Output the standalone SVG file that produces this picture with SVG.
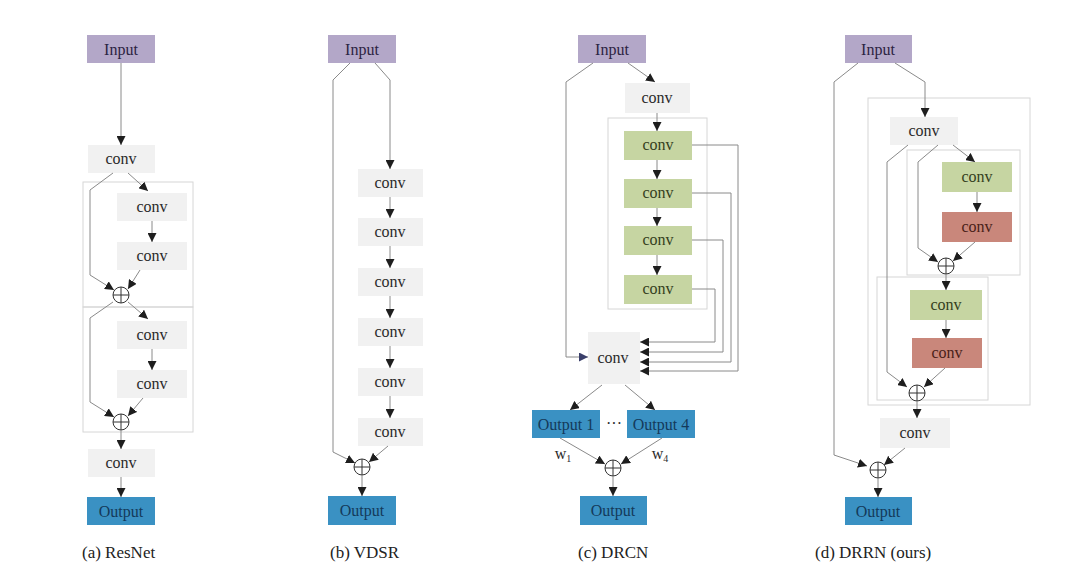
<svg xmlns="http://www.w3.org/2000/svg" width="1080" height="567" viewBox="0 0 1080 567">
<defs>
<marker id="ah" viewBox="0 0 10 10" refX="10" refY="5" markerWidth="9" markerHeight="9" orient="auto" markerUnits="userSpaceOnUse"><path d="M0,0 L10,5 L0,10 z" fill="#1e1e1e"/></marker>
<marker id="ahb" viewBox="0 0 10 10" refX="10" refY="5" markerWidth="9" markerHeight="9" orient="auto" markerUnits="userSpaceOnUse"><path d="M0,0 L10,5 L0,10 z" fill="#3a3f6a"/></marker>
<style>
text{font-family:"Liberation Serif","Times New Roman",serif;font-size:16px;text-anchor:middle;fill:#2a2a2a}
.in{fill:#b3a7c8}
.in-t{fill:#2c2342}
.cv{fill:#f1f1f1}
.gr{fill:#c6d5a2}
.gr-t{fill:#344020}
.rd{fill:#c9877b}
.rd-t{fill:#4a1e18}
.out{fill:#3a91c3}
.out-t{fill:#143a5a}
.blk{fill:none;stroke:#d6d6d6;stroke-width:1}
.c{fill:none;stroke:#8a8a8a;stroke-width:1;marker-end:url(#ah)}
.l{fill:none;stroke:#8a8a8a;stroke-width:1}
.sum circle{fill:#fff;stroke:#333;stroke-width:1}
.sum line{stroke:#333;stroke-width:1}
.cap{font-size:17px;text-anchor:start;fill:#222}
</style>
</defs>
<rect width="1080" height="567" fill="#fff"/>

<!-- Panel a: ResNet -->
<g id="a-blocks">
<rect class="blk" x="83" y="182" width="110" height="125"/>
<rect class="blk" x="83" y="307" width="110" height="125"/>
</g>
<g id="a-input"><rect class="in" x="87" y="35" width="68" height="28"/><text class="in-t" x="121" y="55">Input</text></g>
<g id="a-conv0"><rect class="cv" x="88" y="145" width="67" height="28"/><text x="121" y="164">conv</text></g>
<g id="a-conv1"><rect class="cv" x="117" y="193" width="70" height="28"/><text x="152" y="212">conv</text></g>
<g id="a-conv2"><rect class="cv" x="117" y="242" width="70" height="28"/><text x="152" y="261">conv</text></g>
<g id="a-conv3"><rect class="cv" x="117" y="321" width="70" height="28"/><text x="152" y="340">conv</text></g>
<g id="a-conv4"><rect class="cv" x="117" y="370" width="70" height="28"/><text x="152" y="389">conv</text></g>
<g id="a-conv5"><rect class="cv" x="88" y="449" width="67" height="28"/><text x="121" y="468">conv</text></g>
<g id="a-output"><rect class="out" x="87" y="497" width="68" height="28"/><text class="out-t" x="121" y="517">Output</text></g>
<g id="a-sum1" class="sum"><circle cx="121" cy="295" r="8"/><line x1="113" y1="295" x2="129" y2="295"/><line x1="121" y1="287" x2="121" y2="303"/></g>
<g id="a-sum2" class="sum"><circle cx="121" cy="422" r="8"/><line x1="113" y1="422" x2="129" y2="422"/><line x1="121" y1="414" x2="121" y2="430"/></g>
<text class="cap" x="82" y="558">(a) ResNet</text>

<!-- Panel b: VDSR -->
<g id="b-input"><rect class="in" x="328" y="35" width="68" height="28"/><text class="in-t" x="362" y="55">Input</text></g>
<g id="b-conv1"><rect class="cv" x="358" y="169" width="65" height="28"/><text x="390" y="188">conv</text></g>
<g id="b-conv2"><rect class="cv" x="358" y="218" width="65" height="28"/><text x="390" y="237">conv</text></g>
<g id="b-conv3"><rect class="cv" x="358" y="268" width="65" height="28"/><text x="390" y="287">conv</text></g>
<g id="b-conv4"><rect class="cv" x="358" y="318" width="65" height="28"/><text x="390" y="337">conv</text></g>
<g id="b-conv5"><rect class="cv" x="358" y="368" width="65" height="28"/><text x="390" y="387">conv</text></g>
<g id="b-conv6"><rect class="cv" x="358" y="418" width="65" height="28"/><text x="390" y="437">conv</text></g>
<g id="b-sum" class="sum"><circle cx="362" cy="467" r="8"/><line x1="354" y1="467" x2="370" y2="467"/><line x1="362" y1="459" x2="362" y2="475"/></g>
<g id="b-output"><rect class="out" x="328" y="496" width="68" height="29"/><text class="out-t" x="362" y="516">Output</text></g>
<text class="cap" x="330" y="558">(b) VDSR</text>

<!-- Panel c: DRCN -->
<g id="c-block"><rect class="blk" x="608" y="118" width="99" height="191"/></g>
<g id="c-input"><rect class="in" x="578" y="35" width="68" height="28"/><text class="in-t" x="612" y="55">Input</text></g>
<g id="c-conv0"><rect class="cv" x="625" y="83" width="65" height="30"/><text x="657" y="103">conv</text></g>
<g id="c-g1"><rect class="gr" x="624" y="131" width="68" height="29"/><text class="gr-t" x="658" y="150">conv</text></g>
<g id="c-g2"><rect class="gr" x="624" y="179" width="68" height="29"/><text class="gr-t" x="658" y="198">conv</text></g>
<g id="c-g3"><rect class="gr" x="624" y="226" width="68" height="29"/><text class="gr-t" x="658" y="245">conv</text></g>
<g id="c-g4"><rect class="gr" x="624" y="275" width="68" height="29"/><text class="gr-t" x="658" y="294">conv</text></g>
<g id="c-conv"><rect class="cv" x="588" y="332" width="52" height="52"/><text x="613" y="363">conv</text></g>
<g id="c-out1"><rect class="out" x="532" y="410" width="68" height="28"/><text class="out-t" x="566" y="430">Output 1</text></g>
<text x="614" y="429" fill="#333">···</text>
<g id="c-out4"><rect class="out" x="627" y="410" width="68" height="28"/><text class="out-t" x="661" y="430">Output 4</text></g>
<text x="563" y="459" fill="#333" font-size="15">w<tspan font-size="10" dy="3">1</tspan></text>
<text x="660" y="459" fill="#333" font-size="15">w<tspan font-size="10" dy="3">4</tspan></text>
<g id="c-sum" class="sum"><circle cx="613" cy="468" r="8"/><line x1="605" y1="468" x2="621" y2="468"/><line x1="613" y1="460" x2="613" y2="476"/></g>
<g id="c-output"><rect class="out" x="580" y="496" width="67" height="29"/><text class="out-t" x="613" y="516">Output</text></g>
<text class="cap" x="578" y="558">(c) DRCN</text>

<!-- Panel d: DRRN -->
<g id="d-blocks">
<rect class="blk" x="868" y="98" width="162" height="307"/>
<rect class="blk" x="907" y="150" width="113" height="125"/>
<rect class="blk" x="877" y="277" width="111" height="123"/>
</g>
<g id="d-input"><rect class="in" x="845" y="35" width="67" height="28"/><text class="in-t" x="878" y="55">Input</text></g>
<g id="d-conv1"><rect class="cv" x="890" y="117" width="68" height="28"/><text x="924" y="136">conv</text></g>
<g id="d-g1"><rect class="gr" x="942" y="162" width="70" height="30"/><text class="gr-t" x="977" y="182">conv</text></g>
<g id="d-r1"><rect class="rd" x="942" y="212" width="70" height="30"/><text class="rd-t" x="977" y="232">conv</text></g>
<g id="d-sum1" class="sum"><circle cx="946" cy="266" r="8"/><line x1="938" y1="266" x2="954" y2="266"/><line x1="946" y1="258" x2="946" y2="274"/></g>
<g id="d-g2"><rect class="gr" x="910" y="290" width="72" height="30"/><text class="gr-t" x="946" y="310">conv</text></g>
<g id="d-r2"><rect class="rd" x="912" y="338" width="70" height="30"/><text class="rd-t" x="947" y="358">conv</text></g>
<g id="d-sum2" class="sum"><circle cx="917" cy="393" r="8"/><line x1="909" y1="393" x2="925" y2="393"/><line x1="917" y1="385" x2="917" y2="401"/></g>
<g id="d-conv2"><rect class="cv" x="880" y="418" width="70" height="30"/><text x="915" y="438">conv</text></g>
<g id="d-sum3" class="sum"><circle cx="878" cy="470" r="8"/><line x1="870" y1="470" x2="886" y2="470"/><line x1="878" y1="462" x2="878" y2="478"/></g>
<g id="d-output"><rect class="out" x="845" y="497" width="67" height="28"/><text class="out-t" x="878" y="517">Output</text></g>
<text class="cap" x="815" y="558">(d) DRRN (ours)</text>

<g id="connectors">
<!-- a -->
<line class="c" x1="121" y1="63" x2="121" y2="145"/>
<line class="c" x1="128" y1="173" x2="148" y2="191"/>
<line class="c" x1="152" y1="221" x2="152" y2="242"/>
<polyline class="c" points="113,173 90,190 90,275 114,290"/>
<line class="c" x1="140" y1="270" x2="128" y2="289"/>
<line class="c" x1="128" y1="302" x2="148" y2="319"/>
<polyline class="c" points="113,302 90,318 90,402 114,417"/>
<line class="c" x1="152" y1="349" x2="152" y2="370"/>
<line class="c" x1="143" y1="398" x2="128" y2="416"/>
<line class="c" x1="121" y1="430" x2="121" y2="449"/>
<line class="c" x1="121" y1="477" x2="121" y2="497"/>
<!-- b -->
<polyline class="c" points="375,63 390,80 390,169"/>
<line class="c" x1="390" y1="197" x2="390" y2="218"/>
<line class="c" x1="390" y1="246" x2="390" y2="268"/>
<line class="c" x1="390" y1="296" x2="390" y2="318"/>
<line class="c" x1="390" y1="346" x2="390" y2="368"/>
<line class="c" x1="390" y1="396" x2="390" y2="418"/>
<polyline class="c" points="350,63 333,80 333,452 355,463"/>
<line class="c" x1="388" y1="446" x2="369" y2="462"/>
<line class="c" x1="362" y1="475" x2="362" y2="496"/>
<!-- c -->
<line class="c" x1="628" y1="63" x2="655" y2="82"/>
<line class="c" x1="657" y1="113" x2="657" y2="131"/>
<line class="c" x1="657" y1="160" x2="657" y2="179"/>
<line class="c" x1="657" y1="208" x2="657" y2="226"/>
<line class="c" x1="657" y1="255" x2="657" y2="275"/>
<polyline class="c" points="692,145 738,145 738,371 640,371"/>
<polyline class="c" points="692,193 731,193 731,362 640,362"/>
<polyline class="c" points="692,240 723,240 723,352 640,352"/>
<polyline class="c" points="692,289 715,289 715,342 640,342"/>
<polyline class="l" points="593,63 566,82 566,357 588,357" style="marker-end:url(#ahb)"/>
<line class="c" x1="602" y1="385" x2="570" y2="410"/>
<line class="c" x1="625" y1="385" x2="655" y2="410"/>
<line class="c" x1="560" y1="438" x2="605" y2="464"/>
<line class="c" x1="662" y1="438" x2="621" y2="464"/>
<line class="c" x1="613" y1="476" x2="613" y2="496"/>
<!-- d -->
<polyline class="c" points="895,63 925,82 925,117"/>
<polyline class="c" points="858,63 834,82 834,455 867,466"/>
<polyline class="c" points="908,145 887,162 887,372 907,387"/>
<polyline class="c" points="938,145 918,162 918,248 938,262"/>
<line class="c" x1="953" y1="145" x2="975" y2="162"/>
<line class="c" x1="977" y1="192" x2="977" y2="212"/>
<line class="c" x1="975" y1="242" x2="953" y2="261"/>
<line class="c" x1="946" y1="274" x2="946" y2="290"/>
<line class="c" x1="946" y1="320" x2="946" y2="338"/>
<line class="c" x1="945" y1="368" x2="924" y2="387"/>
<line class="c" x1="917" y1="401" x2="917" y2="418"/>
<line class="c" x1="905" y1="448" x2="884" y2="465"/>
<line class="c" x1="878" y1="478" x2="878" y2="497"/>
</g>
</svg>
